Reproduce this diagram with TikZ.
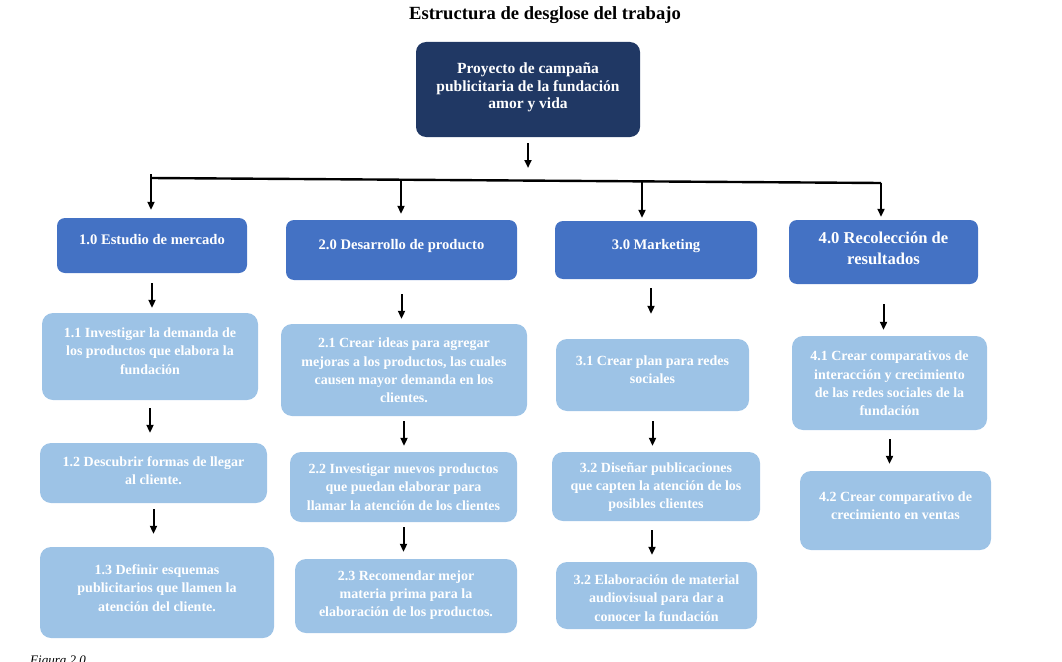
\documentclass[tikz,border=0pt]{standalone}
\usepackage{fontspec}
\setmainfont{Liberation Serif}
\usetikzlibrary{arrows.meta,calc}
\definecolor{navy}{HTML}{203864}
\definecolor{midblue}{HTML}{4472C4}
\definecolor{lightblue}{HTML}{9DC3E6}
\begin{document}
\begin{tikzpicture}[x=1pt,y=-1pt,
  boxbase/.style={rectangle, rounded corners=10pt, inner sep=0pt, draw=none},
  rootbox/.style={boxbase, fill=navy},
  lvlone/.style={boxbase, fill=midblue, rounded corners=8pt},
  lvltwo/.style={boxbase, fill=lightblue, rounded corners=11pt},
  txt/.style={text=white, align=center, inner sep=0pt, font=\bfseries\fontsize{14}{18.3}\selectfont},
  txtroot/.style={txt, font=\bfseries\fontsize{15.5}{17.5}\selectfont},
  txtone/.style={txt, font=\bfseries\fontsize{14.6}{21}\selectfont},
  arr/.style={line width=2pt, -{Triangle[length=8pt,width=7pt]}},
  hline/.style={line width=2.4pt}
]
\useasboundingbox (0,0) rectangle (1062,661);

\node[font=\bfseries\fontsize{18.6}{20}\selectfont] (title) at (545,15) {Estructura de desglose del trabajo};

% root
\node[rootbox, minimum width=224pt, minimum height=95pt] (root) at (528,89.5) {};
\node[txtroot] (troot) at (528,87.5) {Proyecto de campaña\\publicitaria de la fundación\\amor y vida};

% level 1
\node[lvlone, minimum width=190pt, minimum height=55pt] (n10) at (152,245.5) {};
\node[txtone] (t10) at (152,240) {1.0 Estudio de mercado};
\node[lvlone, minimum width=231pt, minimum height=60pt] (n20) at (401.5,250) {};
\node[txtone] (t20) at (401.5,246) {2.0 Desarrollo de producto};
\node[lvlone, minimum width=202pt, minimum height=58pt] (n30) at (656,250) {};
\node[txtone] (t30) at (656,246) {3.0 Marketing};
\node[lvlone, minimum width=189pt, minimum height=64pt] (n40) at (883.5,252) {};
\node[txtone, font=\bfseries\fontsize{16.6}{21}\selectfont] (t40) at (883.5,248.5) {4.0 Recolección de\\resultados};

% level 2 column 1
\node[lvltwo, minimum width=216pt, minimum height=87pt] (n11) at (150,356.5) {};
\node[txt] (t11) at (150,351) {1.1 Investigar la demanda de\\los productos que elabora la\\fundación};
\node[lvltwo, minimum width=227pt, minimum height=60pt] (n12) at (153.5,473) {};
\node[txt] (t12) at (153.5,471) {1.2 Descubrir formas de llegar\\al cliente.};
\node[lvltwo, minimum width=234pt, minimum height=91pt] (n13) at (157,592.5) {};
\node[txt] (t13) at (157,588) {1.3 Definir esquemas\\publicitarios que llamen la\\atención del cliente.};

% column 2
\node[lvltwo, minimum width=246pt, minimum height=92pt] (n21) at (404,370) {};
\node[txt] (t21) at (404,370.5) {2.1 Crear ideas para agregar\\mejoras a los productos, las cuales\\causen mayor demanda en los\\clientes.};
\node[lvltwo, minimum width=227pt, minimum height=70pt] (n22) at (403.5,487) {};
\node[txt] (t22) at (403.5,487) {2.2 Investigar nuevos productos\\que puedan elaborar para\\llamar la atención de los clientes};
\node[lvltwo, minimum width=222pt, minimum height=74pt] (n23) at (406,596) {};
\node[txt] (t23) at (406,595) {2.3 Recomendar mejor\\materia prima para la\\elaboración de los productos.};

% column 3
\node[lvltwo, minimum width=193pt, minimum height=72pt] (n31) at (652.5,375) {};
\node[txt] (t31) at (652.5,370) {3.1 Crear plan para redes\\sociales};
\node[lvltwo, minimum width=208pt, minimum height=69pt] (n32) at (656,486.5) {};
\node[txt] (t32) at (656,487) {3.2 Diseñar publicaciones\\que capten la atención de los\\posibles clientes};
\node[lvltwo, minimum width=201pt, minimum height=67pt] (n33) at (656.5,595.5) {};
\node[txt] (t33) at (656.5,598) {3.2 Elaboración de material\\audiovisual para dar a\\conocer la fundación};

% column 4
\node[lvltwo, minimum width=195pt, minimum height=94pt] (n41) at (889.5,383) {};
\node[txt] (t41) at (889.5,383.5) {4.1 Crear comparativos de\\interacción y crecimiento\\de las redes sociales de la\\fundación};
\node[lvltwo, minimum width=191pt, minimum height=79pt] (n42) at (895.5,510.5) {};
\node[txt] (t42) at (895.5,505.5) {4.2 Crear comparativo de\\crecimiento en ventas};

% caption (cut off at bottom, as in the reference)
\node[anchor=base west, inner sep=0pt, font=\itshape\fontsize{13}{15}\selectfont] (fig) at (30,664) {Figura 2.0};

% horizontal bar
\coordinate (hL) at (151,178);
\coordinate (hR) at (881,183);
\coordinate (hLtop) at (151,174);
\coordinate (d2) at (401,179.7);
\coordinate (d3) at (642,181.4);
\draw[hline] (hL) -- (hR);

% root arrow
\draw[arr, shorten <=6pt, shorten >=10pt] (root.south) -- (root.south |- hL);

% drops
\draw[arr, shorten >=8pt] (hLtop) -- (hLtop |- n10.north);
\draw[arr, shorten >=6pt] (d2) -- (d2 |- n20.north);
\draw[arr, shorten >=3pt] (d3) -- (d3 |- n30.north);
\draw[arr, shorten >=3pt] (hR) -- (hR |- n40.north);

% level arrows
\draw[arr, shorten <=10pt, shorten >=5pt] (n10.south) -- (n10.south |- n11.north);
\draw[arr, shorten <=14pt, shorten >=5pt] (n20.south) -- (n20.south |- n21.north);
\draw[arr, shorten <=9pt, shorten >=25pt] ([xshift=-5pt]n30.south) -- ([xshift=-5pt]n30.south |- n31.north);
\draw[arr, shorten <=20pt, shorten >=6pt] (n40.south) -- (n40.south |- n41.north);

\draw[arr, shorten <=8pt, shorten >=10pt] (n11.south) -- (n11.south |- n12.north);
\draw[arr, shorten <=5pt, shorten >=6pt] (n21.south) -- (n21.south |- n22.north);
\draw[arr, shorten <=10pt, shorten >=6pt] (n31.south) -- (n31.south |- n32.north);
\draw[arr, shorten <=9pt, shorten >=7pt] (n41.south) -- (n41.south |- n42.north);

\draw[arr, shorten <=6pt, shorten >=13pt] (n12.south) -- (n12.south |- n13.north);
\draw[arr, shorten <=5pt, shorten >=7pt] (n22.south) -- (n22.south |- n23.north);
\draw[arr, shorten <=9pt, shorten >=7pt] ([xshift=-4pt]n32.south) -- ([xshift=-4pt]n32.south |- n33.north);
\end{tikzpicture}
\end{document}
